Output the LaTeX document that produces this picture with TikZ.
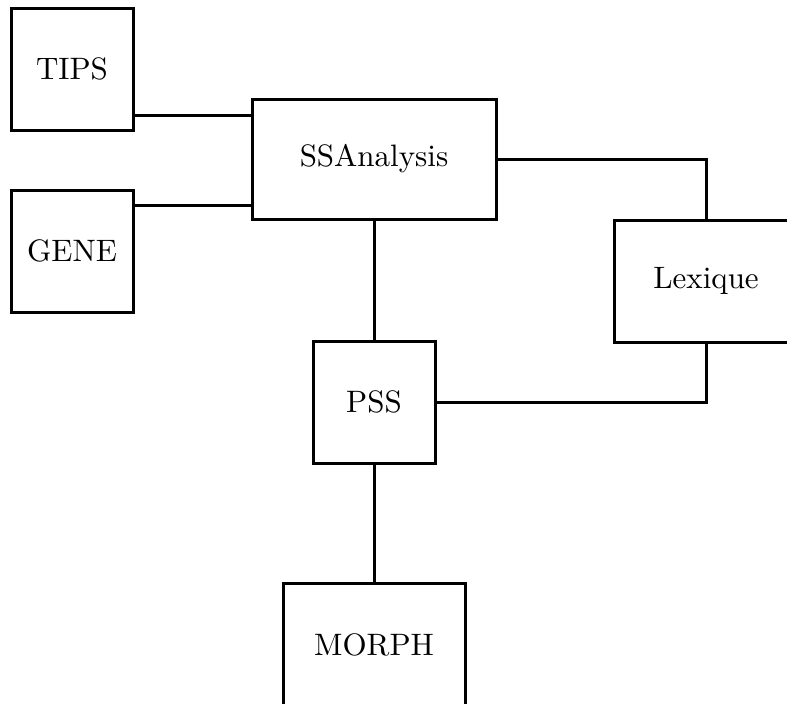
\documentclass[tikz,border=0pt]{standalone}
\usepackage{fontspec}
\setmainfont{lmroman10-regular}[Extension=.otf]
\begin{document}
\begin{tikzpicture}[x=1pt,y=-1pt,
  module/.style={draw,line width=3pt,rectangle,inner sep=0pt,
    font=\fontsize{31}{37}\selectfont},
  link/.style={line width=3pt}]
\useasboundingbox (0,0) rectangle (787,704);
% modules
\node[module,minimum width=122pt,minimum height=122pt] (tips) at (72,69) {TIPS};
\node[module,minimum width=122pt,minimum height=122pt] (gene) at (72,251) {GENE};
\node[module,minimum width=244pt,minimum height=120pt] (ssa) at (374,159) {SSAnalysis};
\node[module,minimum width=184pt,minimum height=122pt] (lex) at (706,281) {Lexique};
\node[module,minimum width=122pt,minimum height=122pt] (pss) at (374,402) {PSS};
\node[module,minimum width=182pt,minimum height=124pt] (morph) at (374,645) {MORPH};
% attachment points on the left side of SSAnalysis
\coordinate (tin) at (252,115);
\coordinate (gin) at (252,205);
% connections
\draw[link] (tips.east |- tin) -- (ssa.west |- tin);
\draw[link] (gene.east |- gin) -- (ssa.west |- gin);
\draw[link] (ssa.east) -| (lex.north);
\draw[link] (ssa.south) -- (pss.north);
\draw[link] (pss.east) -| (lex.south);
\draw[link] (pss.south) -- (morph.north);
\end{tikzpicture}
\end{document}
